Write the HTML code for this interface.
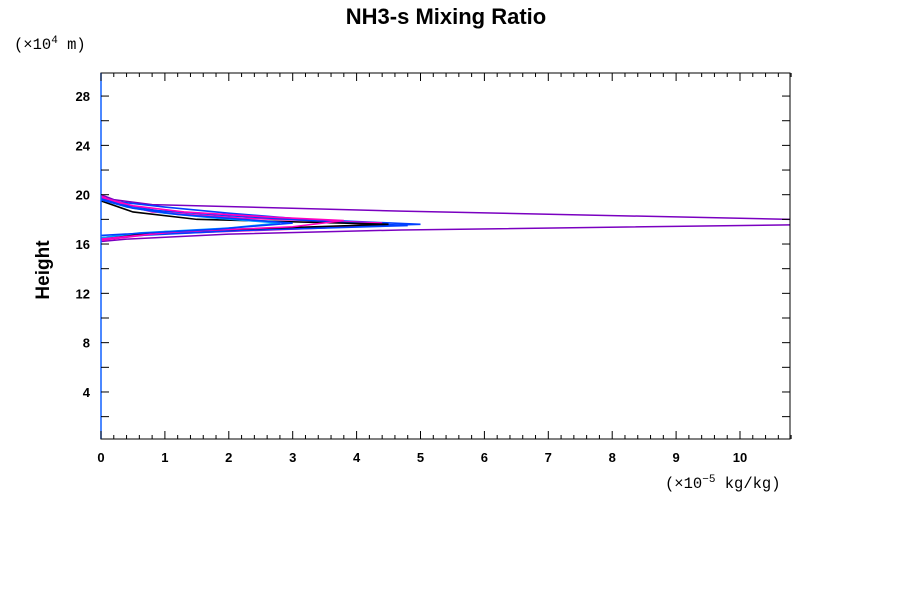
<!DOCTYPE html>
<html><head><meta charset="utf-8"><style>
body{margin:0;background:#fff;}
svg{display:block;font-family:"Liberation Sans",sans-serif;}
</style></head><body>
<svg id="c" width="900" height="600">
<text x="446" y="24" text-anchor="middle" font-size="22" font-weight="bold">NH3-s Mixing Ratio</text>
<text x="14" y="49" font-size="15.5" font-family="Liberation Mono, monospace">(×10<tspan dy="-6" font-size="11">4</tspan><tspan dy="6"> m)</tspan></text>
<text x="49" y="270" font-size="19" font-weight="bold" transform="rotate(-90 49 270)" text-anchor="middle">Height</text>
<text x="665" y="488" font-size="15.5" font-family="Liberation Mono, monospace">(×10<tspan dy="-6" font-size="11">−5</tspan><tspan dy="6"> kg/kg)</tspan></text>
<defs><clipPath id="cp"><rect x="101" y="73" width="689" height="366"/></clipPath></defs>
<g id="marks" clip-path="url(#cp)"></g>
<g id="axes"></g>
</svg>
<script>
const xTicks=[0,1,2,3,4,5,6,7,8,9,10];
const yTicks=[4,8,12,16,20,24,28];
const seriesColors=["#7a00c0","#0040ff","#ff00c0","#0040ff","#000000","#00a0ff","#ff00c0","#0040ff"];
const seriesHeights=[
 [20.0,19.6,19.2,18.67,18.0,17.8,17.55,17.14,16.8,16.4,16.2],
 [19.8,19.4,19.0,18.5,18.0,17.6,17.2,16.8,16.4],
 [19.9,19.4,18.6,18.1,17.7,17.3,16.8,16.3],
 [19.7,19.2,18.7,18.3,17.8,17.5,17.1,16.7,16.4],
 [19.5,18.6,18.0,17.6,17.0,16.5],
 [19.6,19.0,18.5,18.1,17.7,17.3,16.9,16.5],
 [19.8,19.1,18.6,18.2,17.9,17.4,17.0,16.4],
 [19.6,18.9,18.4,18.0,17.7,17.2,16.7]
];
const seriesValues=[
 [0,0.2,0.8,4.7,10.8,14,10.8,4.7,2.0,0.4,0],
 [0,0.3,1.0,2.0,3.2,5.0,2.5,0.6,0],
 [0,0.2,0.8,2.2,4.4,3.5,0.8,0],
 [0,0.3,0.9,2.0,3.6,4.8,2.2,0.6,0],
 [0,0.5,1.5,4.5,1.0,0],
 [0,0.4,1.0,1.8,2.8,2.0,0.6,0],
 [0,0.5,1.3,2.6,3.8,3.0,1.2,0],
 [0,0.5,1.2,2.2,3.0,1.8,0]
];
const X=v=>101+v*63.9, Y=h=>441.3-h*12.33;
const ns="http://www.w3.org/2000/svg";
const marks=document.getElementById('marks'), axes=document.getElementById('axes');
seriesValues.forEach((vals,i)=>{
 const p=document.createElementNS(ns,'polyline');
 p.setAttribute('points',vals.map((v,j)=>X(v)+','+Y(seriesHeights[i][j])).join(' '));
 p.setAttribute('fill','none');p.setAttribute('stroke',seriesColors[i]);
 p.setAttribute('stroke-width',i==0?1.5:1.6);
 
 
 marks.appendChild(p);
});
const fr=document.createElementNS(ns,'rect');
fr.setAttribute('x',101);fr.setAttribute('y',73);fr.setAttribute('width',689);fr.setAttribute('height',366);
fr.setAttribute('fill','none');fr.setAttribute('stroke','#000');


axes.appendChild(fr);
const ax=document.createElementNS(ns,'line');
ax.setAttribute('x1',101);ax.setAttribute('x2',101);ax.setAttribute('y1',73);ax.setAttribute('y2',439);ax.setAttribute('stroke','#1060ff');ax.setAttribute('stroke-width',1.5);


axes.appendChild(ax);
function ln(x1,y1,x2,y2){const l=document.createElementNS(ns,'line');l.setAttribute('x1',x1);l.setAttribute('y1',y1);l.setAttribute('x2',x2);l.setAttribute('y2',y2);l.setAttribute('stroke','#000');


axes.appendChild(l);}
for(let v=0;v<=10.8;v+=0.2){const x=X(v);const major=Math.abs(v-Math.round(v))<1e-6;ln(x,439,x,439-(major?8:4));ln(x,73,x,73+(major?8:4));}
for(let h=2;h<=29;h+=2){const y=Y(h);ln(101,y,109,y);ln(790,y,782,y);}
xTicks.forEach(v=>{const t=document.createElementNS(ns,'text');t.setAttribute('x',X(v));t.setAttribute('y',462);t.setAttribute('text-anchor','middle');t.setAttribute('font-size',13);t.setAttribute('font-weight','bold');t.textContent=v;


axes.appendChild(t);});
yTicks.forEach(v=>{const t=document.createElementNS(ns,'text');t.setAttribute('x',90);t.setAttribute('y',Y(v)+5);t.setAttribute('text-anchor','end');t.setAttribute('font-size',13);t.setAttribute('font-weight','bold');t.textContent=v;


axes.appendChild(t);});
</script>
</body></html>
